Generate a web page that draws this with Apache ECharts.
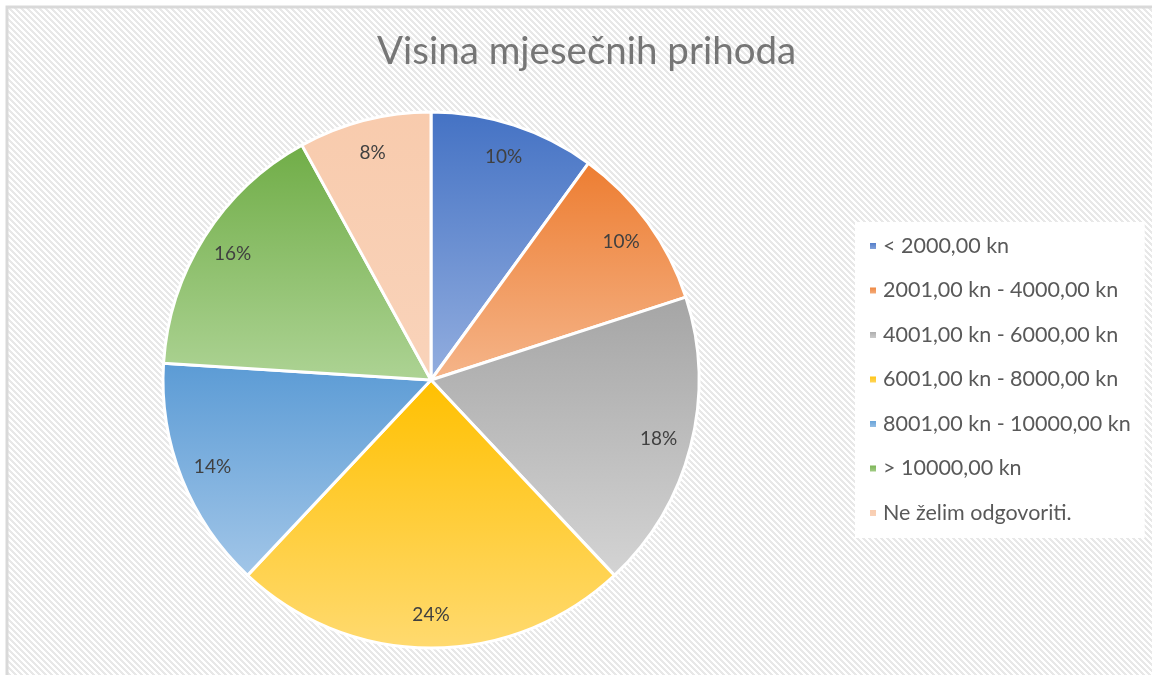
<!DOCTYPE html>
<html>
<head>
<meta charset="utf-8">
<script src="https://cdn.jsdelivr.net/npm/echarts@6/dist/echarts.min.js"></script>
<style>
  html, body { margin: 0; padding: 0; background: #fff; overflow: hidden; }
  #main { width: 1152px; height: 675px; }
</style>
</head>
<body>
<div id="main"></div>
<script>
const categories = [
  "< 2000,00 kn",
  "2001,00 kn - 4000,00 kn",
  "4001,00 kn - 6000,00 kn",
  "6001,00 kn - 8000,00 kn",
  "8001,00 kn - 10000,00 kn",
  "> 10000,00 kn",
  "Ne želim odgovoriti."
];
const shares = [10, 10, 18, 24, 14, 16, 8];
const topColors = ["#4472C4", "#ED7D31", "#A5A5A5", "#FFC000", "#5B9BD5", "#70AD47", "#F8CBAD"];
const bottomColors = ["#93AEDF", "#F5B58A", "#D4D4D4", "#FFDA70", "#A2C6E8", "#ADD394", "#F9D3BA"];

// hatched background tile
const tile = document.createElement("canvas");
tile.width = 6;
tile.height = 6;
const tctx = tile.getContext("2d");
for (let y = 0; y < 6; y++) {
  for (let x = 0; x < 6; x++) {
    const k = ((x - y) % 6 + 6) % 6;
    tctx.fillStyle = k < 3 ? "#E8E8E8" : "#FFFFFF";
    tctx.fillRect(x, y, 1, 1);
  }
}

const chart = echarts.init(document.getElementById("main"));

const pieData = categories.map((name, i) => ({
  name: name,
  value: shares[i],
  itemStyle: {
    color: new echarts.graphic.LinearGradient(0, 0, 0, 1, [
      { offset: 0, color: topColors[i] },
      { offset: 1, color: bottomColors[i] }
    ])
  }
}));

const labelData = categories.map((name, i) => ({ name: name, value: shares[i] }));

const option = {
  backgroundColor: "#fff",
  animation: false,
  graphic: [
    {
      type: "rect",
      z: -10,
      silent: true,
      shape: { x: 8, y: 8, width: 1144, height: 667 },
      style: { fill: { image: tile, repeat: "repeat" } }
    },
    {
      type: "polyline",
      z: -9,
      silent: true,
      shape: { points: [[7, 675], [7, 7], [1152, 7]] },
      style: { stroke: "#D9D9D9", lineWidth: 3, fill: null }
    }
  ],
  title: {
    text: "Visina mjesečnih prihoda",
    left: 372,
    top: 27,
    textStyle: {
      fontFamily: "Lato",
      fontWeight: "normal",
      fontSize: 38.5,
      color: "#767676"
    }
  },
  legend: {
    orient: "vertical",
    left: 855,
    top: 222,
    data: categories,
    backgroundColor: "#fff",
    padding: [13, 14, 14, 13],
    itemWidth: 8,
    itemHeight: 8,
    itemGap: 22.5,
    icon: "rect",
    textStyle: {
      fontFamily: "Lato",
      fontSize: 21.5,
      lineHeight: 21,
      color: "#595959",
      padding: [0, 0, 0, 1]
    }
  },
  series: [
    {
      type: "pie",
      center: [431, 380],
      radius: 268,
      startAngle: 90,
      clockwise: true,
      silent: true,
      data: pieData,
      itemStyle: { borderColor: "#fff", borderWidth: 3 },
      label: { show: false },
      labelLine: { show: false }
    },
    {
      type: "pie",
      center: [431, 380],
      radius: [200, 264],
      startAngle: 90,
      clockwise: true,
      silent: true,
      legendHoverLink: false,
      data: labelData,
      itemStyle: { color: "rgba(0,0,0,0)" },
      label: {
        show: true,
        position: "inside",
        formatter: "{d}%",
        fontFamily: "Lato",
        fontSize: 19,
        color: "#404040"
      },
      labelLine: { show: false }
    }
  ]
};

chart.setOption(option);
</script>
</body>
</html>
